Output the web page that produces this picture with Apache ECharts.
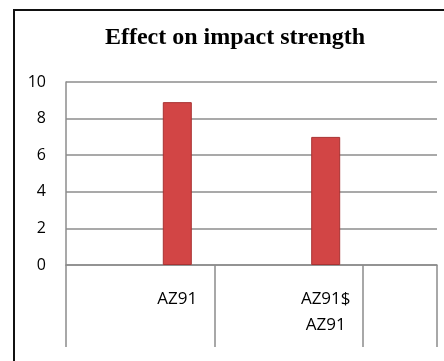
<!DOCTYPE html>
<html>
<head>
<meta charset="utf-8">
<script src="https://cdn.jsdelivr.net/npm/echarts@6/dist/echarts.min.js"></script>
<style>
  html, body { margin: 0; padding: 0; background: #fff; }
  #chart { width: 444px; height: 361px; }
</style>
</head>
<body>
<div id="chart"></div>
<script>
// Impact strength per alloy
const categories = ['AZ91', 'AZ91$\nAZ91'];
const values = [8.9, 7.0];
const yTicks = [0, 2, 4, 6, 8, 10];

// Each alloy sits in the right half of its group: a blank slot before it,
// plus one trailing blank half-group at the end of the axis.
const slots = [];
const slotValues = [];
categories.forEach((c, i) => {
  slots.push('');
  slotValues.push(null);
  slots.push(c);
  slotValues.push(values[i]);
});
slots.push('');
slotValues.push(null);

const gray = '#8c8c8c';

const chart = echarts.init(document.getElementById('chart'), null, { renderer: 'canvas' });
chart.setOption({
  animation: false,
  backgroundColor: '#ffffff',
  title: {
    text: 'Effect on impact strength',
    left: 230,
    top: 21,
    textAlign: 'center',
    textStyle: {
      fontFamily: 'Liberation Serif',
      fontWeight: 'bold',
      fontSize: 24,
      color: '#000'
    }
  },
  grid: { left: 66, top: 82, right: 7, bottom: 96, containLabel: false },
  xAxis: {
    type: 'category',
    data: slots,
    boundaryGap: true,
    axisLine: { show: true, lineStyle: { color: gray, width: 1.5 } },
    axisTick: {
      show: true,
      length: 82,
      interval: (index) => index % 2 === 0,
      lineStyle: { color: gray, width: 1.5 }
    },
    axisLabel: {
      interval: 0,
      margin: 21,
      fontFamily: 'Open Sans',
      fontSize: 17,
      lineHeight: 26,
      color: '#000'
    },
    splitLine: { show: false }
  },
  yAxis: {
    type: 'value',
    min: yTicks[0],
    max: yTicks[yTicks.length - 1],
    interval: yTicks[1] - yTicks[0],
    axisLine: { show: true, lineStyle: { color: gray, width: 1.5 } },
    axisTick: { show: false },
    axisLabel: {
      margin: 20,
      fontFamily: 'Open Sans',
      fontSize: 16,
      color: '#000'
    },
    splitLine: { show: true, lineStyle: { color: gray, width: 1.5 } }
  },
  series: [{
    type: 'bar',
    data: slotValues,
    barWidth: 29,
    itemStyle: {
      color: '#d24545',
      borderColor: '#a83232',
      borderWidth: 1
    }
  }],
  graphic: [{
    // outer frame, running off the right and bottom edges
    type: 'rect',
    shape: { x: 14, y: 10, width: 460, height: 380 },
    style: { fill: 'none', stroke: '#111', lineWidth: 2 },
    z: 10
  }]
});
</script>
</body>
</html>
